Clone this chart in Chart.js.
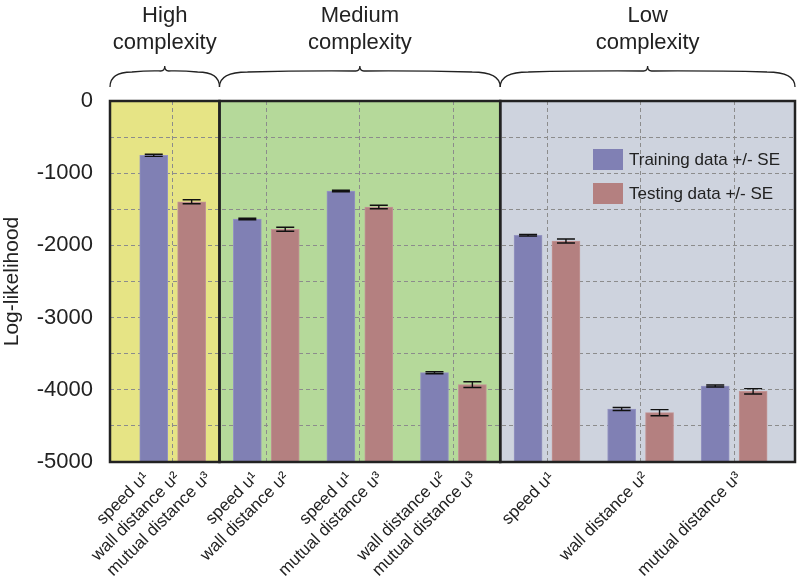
<!DOCTYPE html>
<html lang="en">
<head>
<meta charset="UTF-8" />
<title>Log-likelihood by model complexity</title>
<script src="https://cdn.jsdelivr.net/npm/chart.js"></script>
<style>
  html, body { margin: 0; padding: 0; background: #fff; }
</style>
</head>
<body>
<canvas id="llChart" width="800" height="581"></canvas>
<script>
// categories (each tick label is split over several rotated lines)
const categories = [
  ['speed u¹', 'wall distance u²', 'mutual distance u³'],
  ['speed u¹', 'wall distance u²'],
  ['speed u¹', 'mutual distance u³'],
  ['wall distance u²', 'mutual distance u³'],
  ['speed u¹'],
  ['wall distance u²'],
  ['mutual distance u³']
];
const trainingMean = [-752, -1634, -1247, -3763, -1860, -4266, -3947];
const trainingSE   = [15, 10, 10, 14, 12, 21, 14];
const testingMean  = [-1395, -1777, -1468, -3929, -1939, -4317, -4021];
const testingSE    = [28, 28, 24, 40, 28, 42, 37];

const groupLabels = [['High', 'complexity'], ['Medium', 'complexity'], ['Low', 'complexity']];
const groupFirst  = [0, 1, 4];
const groupLast   = [0, 3, 6];
const groupColors = ['#e6e485', '#b5d99a', '#ced3de'];

const yMin = -5000, yMax = 0, yStep = 500, yLabelStep = 1000;

const trainColor = '#8080b4';
const testColor = '#b48080';
const ink = '#222222';
const FONT = 'Liberation Sans, Arial, Helvetica, sans-serif';

const lineGap = 0.33;    // spacing between label lines, in category units
const lineShift = 0.05;  // small nudge of the label block to the right

function regionEdges(k, x) {
  const l = groupFirst[k] === 0 ? x.min : groupFirst[k] - 0.5;
  const r = groupLast[k] === categories.length - 1 ? x.max : groupLast[k] + 0.5;
  return [x.getPixelForValue(l), x.getPixelForValue(r)];
}

function drawBrace(ctx, l, r) {
  const m = (l + r) / 2;
  const yb = 87, ym = 72, yt = 66;
  const s = Math.min(28, (m - l) * 0.4);
  ctx.beginPath();
  ctx.moveTo(l, yb);
  ctx.bezierCurveTo(l, yb - 11, l + s * 0.4, ym, l + s, ym);
  ctx.bezierCurveTo(l + s + (m - l - s) * 0.5, ym - 1.5, m - 8, ym - 1, m - 4, ym - 1);
  ctx.quadraticCurveTo(m, ym - 1, m, yt);
  ctx.quadraticCurveTo(m, ym - 1, m + 4, ym - 1);
  ctx.bezierCurveTo(m + 8, ym - 1, r - s - (r - m - s) * 0.5, ym - 1.5, r - s, ym);
  ctx.bezierCurveTo(r - s * 0.4, ym, r, yb - 11, r, yb);
  ctx.strokeStyle = ink;
  ctx.lineWidth = 1.3;
  ctx.stroke();
}

const complexityPlugin = {
  id: 'complexity',
  beforeDraw(chart) {
    const { ctx, chartArea: a, scales: { x } } = chart;
    ctx.save();
    groupColors.forEach((c, k) => {
      const [l, r] = regionEdges(k, x);
      ctx.fillStyle = c;
      ctx.fillRect(l, a.top, r - l, a.bottom - a.top);
    });
    ctx.restore();
  },
  afterDatasetsDraw(chart) {
    const { ctx, scales: { y } } = chart;
    const errs = [trainingSE, testingSE];
    ctx.save();
    ctx.strokeStyle = '#111';
    ctx.lineWidth = 1.4;
    chart.data.datasets.forEach((ds, d) => {
      chart.getDatasetMeta(d).data.forEach((bar, i) => {
        const v = ds.data[i].y, e = errs[d][i];
        const y1 = y.getPixelForValue(v + e), y2 = y.getPixelForValue(v - e);
        ctx.beginPath();
        ctx.moveTo(bar.x, y1); ctx.lineTo(bar.x, y2);
        ctx.moveTo(bar.x - 9, y1); ctx.lineTo(bar.x + 9, y1);
        ctx.moveTo(bar.x - 9, y2); ctx.lineTo(bar.x + 9, y2);
        ctx.stroke();
      });
    });
    ctx.restore();
  },
  afterDraw(chart) {
    const { ctx, chartArea: a, scales: { x } } = chart;
    ctx.save();
    // region frames
    ctx.strokeStyle = ink;
    ctx.lineWidth = 2.5;
    groupColors.forEach((c, k) => {
      const [l, r] = regionEdges(k, x);
      ctx.strokeRect(l, a.top, r - l, a.bottom - a.top);
    });
    // braces and group titles
    ctx.fillStyle = ink;
    ctx.font = '22px ' + FONT;
    ctx.textAlign = 'center';
    ctx.textBaseline = 'middle';
    groupLabels.forEach((lines, k) => {
      const [l, r] = regionEdges(k, x);
      drawBrace(ctx, l, r);
      lines.forEach((t, j) => ctx.fillText(t, (l + r) / 2, 16 + j * 27));
    });
    // legend
    ctx.font = '17px ' + FONT;
    ctx.textAlign = 'left';
    chart.data.datasets.forEach((ds, d) => {
      const bx = a.right - 202, by = a.top + 48 + d * 34;
      ctx.fillStyle = ds.backgroundColor;
      ctx.fillRect(bx, by, 30, 21);
      ctx.fillStyle = ink;
      ctx.fillText(ds.label, bx + 36, by + 11);
    });
    ctx.restore();
  }
};

new Chart(document.getElementById('llChart'), {
  type: 'bar',
  data: {
    datasets: [
      {
        label: 'Training data +/- SE',
        data: trainingMean.map((v, i) => ({ x: i, y: v })),
        backgroundColor: trainColor,
        borderColor: '#9494c2',
        borderWidth: 1,
        base: yMin
      },
      {
        label: 'Testing data +/- SE',
        data: testingMean.map((v, i) => ({ x: i, y: v })),
        backgroundColor: testColor,
        borderColor: '#c29494',
        borderWidth: 1,
        base: yMin
      }
    ]
  },
  options: {
    responsive: false,
    animation: false,
    layout: { padding: { left: 0, top: 101, right: 5, bottom: 0 } },
    barThickness: 'flex',
    categoryPercentage: 0.81,
    barPercentage: 0.74,
    plugins: { legend: { display: false }, tooltip: { enabled: false } },
    scales: {
      x: {
        type: 'linear',
        min: -0.67,
        max: 6.65,
        offset: false,
        grid: {
          offset: false,
          drawTicks: false,
          color: c => (c.tick && c.tick.grid ? '#8c8c8c' : 'rgba(0,0,0,0)'),
          lineWidth: 1
        },
        border: { display: false, dash: [4, 3] },
        afterBuildTicks: s => {
          const t = [];
          categories.forEach((lines, i) => {
            t.push({ value: i, text: '', grid: true });
            lines.forEach((txt, j) => t.push({
              value: i + lineShift + (j - (lines.length - 1) / 2) * lineGap, text: txt, grid: false
            }));
          });
          t.sort((p, q) => p.value - q.value);
          s.ticks = t;
        },
        afterFit: s => { s.height = 119; },
        ticks: {
          autoSkip: false,
          minRotation: 45,
          maxRotation: 45,
          padding: 6,
          color: ink,
          font: { family: FONT, size: 17 },
          callback: (v, i, ticks) => ticks[i].text
        }
      },
      y: {
        min: yMin,
        max: yMax,
        grid: { drawTicks: false, color: '#8c8c8c', lineWidth: 1 },
        border: { display: false, dash: [4, 3] },
        afterFit: s => { s.width = 110; },
        ticks: {
          stepSize: yStep,
          padding: 17,
          color: ink,
          font: { family: FONT, size: 22 },
          callback: v => (v % yLabelStep === 0 ? String(v) : '')
        },
        title: {
          display: true,
          text: 'Log-likelihood',
          color: ink,
          font: { family: FONT, size: 21 },
          padding: { top: 0, bottom: 0 }
        }
      }
    }
  },
  plugins: [complexityPlugin]
});
</script>
</body>
</html>
